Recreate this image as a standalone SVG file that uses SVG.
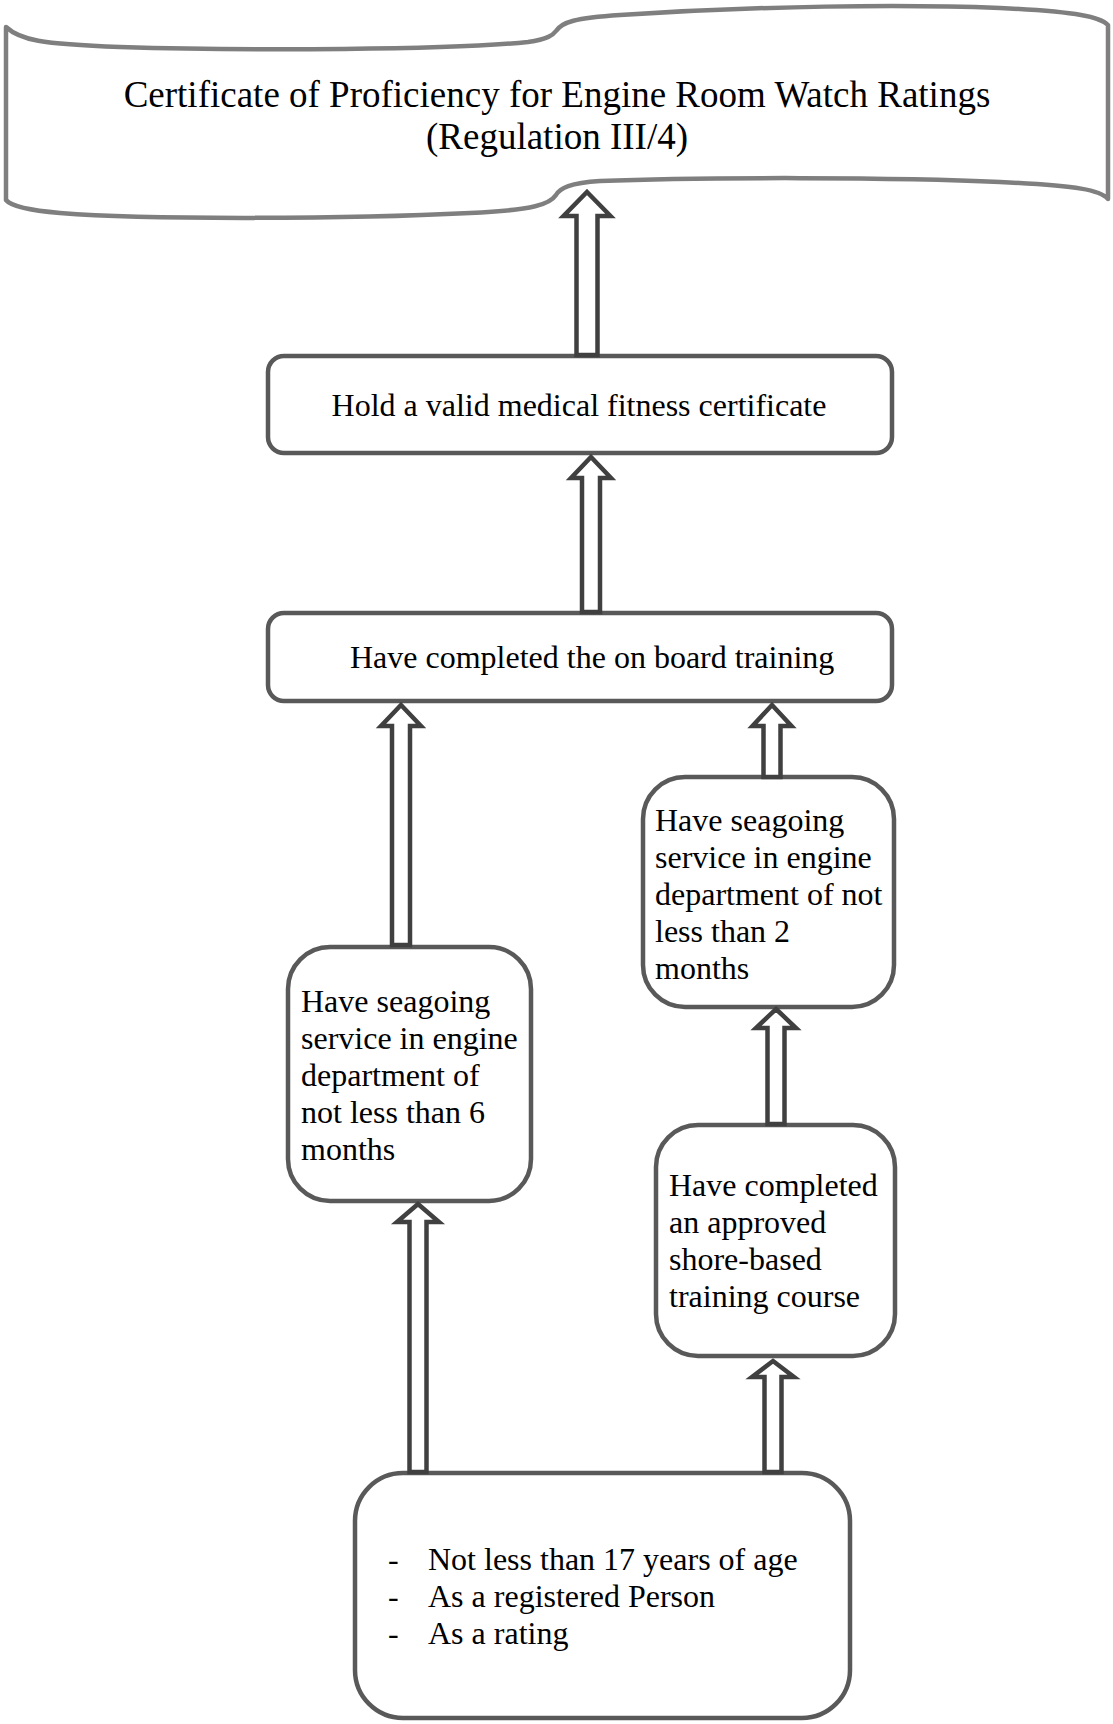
<svg xmlns="http://www.w3.org/2000/svg" width="1113" height="1724" viewBox="0 0 1113 1724">
<style>
.bg{fill:#ffffff}
.box{fill:#ffffff;stroke:#595959;stroke-width:4.5}
.scroll{fill:#ffffff;stroke:#7f7f7f;stroke-width:4.5;stroke-linejoin:round}
.arr{fill:#ffffff;stroke:#404040;stroke-width:4.5;stroke-linejoin:miter}
.t{font-family:"Liberation Serif","Times New Roman",serif;font-size:32px;fill:#000000}
.title{font-family:"Liberation Serif","Times New Roman",serif;font-size:37px;fill:#000000;text-anchor:middle}
</style>
<rect class="bg" x="0" y="0" width="1113" height="1724"/>
<g id="node-certificate">
<path class="scroll" d="M6,27 C20,40 40,44 120,47 C250,51 450,50 528,42 C548,39 553,35 556,31 C562,22 575,18 620,15 C760,6 900,4 1000,8 C1080,12 1100,17 1108,25 L1108,199 C1100,190 1080,186 1000,182 C900,177 700,177 600,181 C570,183 560,188 556,195 C550,204 535,210 470,213 C350,219 150,220 60,213 C25,210 10,205 6,200 Z"/>
<text class="title" x="557" y="107">Certificate of Proficiency for Engine Room Watch Ratings</text>
<text class="title" x="557" y="149">(Regulation III/4)</text>
</g>
<g id="node-medical">
<rect class="box" x="268" y="356" width="624" height="97" rx="16" ry="16"/>
<text class="t" x="579" y="416" text-anchor="middle">Hold a valid medical fitness certificate</text>
</g>
<g id="node-onboard">
<rect class="box" x="268" y="613" width="624" height="88" rx="16" ry="16"/>
<text class="t" x="350" y="668">Have completed the on board training</text>
</g>
<g id="node-seagoing6">
<rect class="box" x="288" y="947" width="243" height="254" rx="42" ry="42"/>
<text class="t" x="301" y="1012">Have seagoing</text>
<text class="t" x="301" y="1049">service in engine</text>
<text class="t" x="301" y="1086">department of</text>
<text class="t" x="301" y="1123">not less than 6</text>
<text class="t" x="301" y="1160">months</text>
</g>
<g id="node-seagoing2">
<rect class="box" x="643" y="777" width="251" height="230" rx="42" ry="42"/>
<text class="t" x="655" y="831">Have seagoing</text>
<text class="t" x="655" y="868">service in engine</text>
<text class="t" x="655" y="905">department of not</text>
<text class="t" x="655" y="942">less than 2</text>
<text class="t" x="655" y="979">months</text>
</g>
<g id="node-shore">
<rect class="box" x="656" y="1125" width="239" height="231" rx="42" ry="42"/>
<text class="t" x="669" y="1196">Have completed</text>
<text class="t" x="669" y="1233">an approved</text>
<text class="t" x="669" y="1270">shore-based</text>
<text class="t" x="669" y="1307">training course</text>
</g>
<g id="node-requirements">
<rect class="box" x="355" y="1473" width="495" height="245" rx="48" ry="48"/>
<text class="t" x="388" y="1570">-</text>
<text class="t" x="428" y="1570">Not less than 17 years of age</text>
<text class="t" x="388" y="1607">-</text>
<text class="t" x="428" y="1607">As a registered Person</text>
<text class="t" x="388" y="1644">-</text>
<text class="t" x="428" y="1644">As a rating</text>
</g>
<g id="connectors">
<path class="arr" d="M587,192 L610.5,216 L597.5,216 L597.5,355 L576.5,355 L576.5,216 L563.5,216 Z"/>
<path class="arr" d="M591,457 L611,478 L600,478 L600,612 L582,612 L582,478 L571,478 Z"/>
<path class="arr" d="M401,705 L421,726 L410,726 L410,945 L392,945 L392,726 L381,726 Z"/>
<path class="arr" d="M772,705 L791.5,726 L780.5,726 L780.5,777 L763.5,777 L763.5,726 L752.5,726 Z"/>
<path class="arr" d="M776,1009 L796,1028 L784.5,1028 L784.5,1124 L767.5,1124 L767.5,1028 L756,1028 Z"/>
<path class="arr" d="M418,1204 L439,1222 L426.5,1222 L426.5,1472 L409.5,1472 L409.5,1222 L397,1222 Z"/>
<path class="arr" d="M773,1361 L794,1377 L781.5,1377 L781.5,1472 L764.5,1472 L764.5,1377 L752,1377 Z"/>
</g>
</svg>
